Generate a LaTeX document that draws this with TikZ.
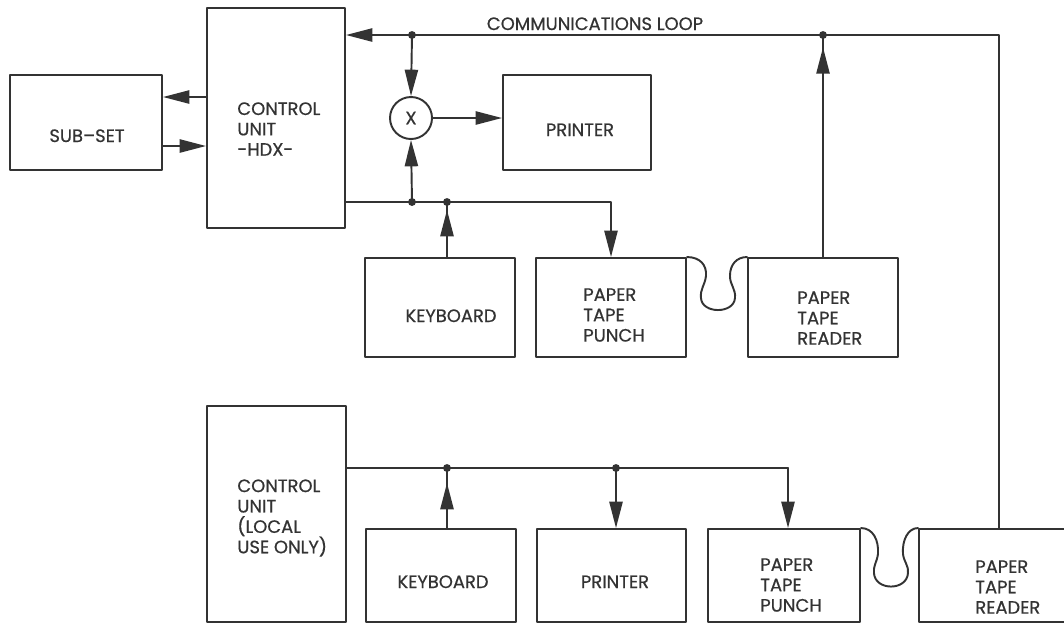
\documentclass[tikz,border=0pt]{standalone}
\usepackage{fontspec}
\setmainfont{Poppins}[FakeBold=0.6]
\usetikzlibrary{arrows.meta}
\definecolor{ink}{HTML}{333333}
\tikzset{
  box/.style={draw=ink,line width=1.1pt,rectangle,inner sep=0pt},
  lbl/.style={font=\fontsize{10.2}{11.6}\selectfont,text=ink,align=left,inner sep=0pt},
  wire/.style={draw=ink,line width=1.1pt},
  arr/.style={wire,-{Triangle[length=15pt,width=7.5pt]}},
  dot/.style={circle,fill=ink,inner sep=0pt,minimum size=4.5pt},
}
\begin{document}
\begin{tikzpicture}[x=0.2mm,y=-0.2mm,line cap=round,line join=round]
\useasboundingbox (0,0) rectangle (1064,625);
\clip (0,0) rectangle (1064,625);
% station with communications loop
\node[box,minimum width=30.4mm,minimum height=19mm] (sub) at (86,122.5) {};
\node[box,minimum width=27.6mm,minimum height=44mm] (hdx) at (276,118) {};
\node[box,circle,minimum size=8.4mm] (mix) at (411,118) {};
\node[box,minimum width=29.6mm,minimum height=19mm] (prt1) at (577,122.5) {};
\node[box,minimum width=30mm,minimum height=19.8mm] (kb1) at (440,307.5) {};
\node[box,minimum width=30mm,minimum height=19.8mm] (pch1) at (611,307.5) {};
\node[box,minimum width=30mm,minimum height=19.8mm] (rd1) at (823,307.5) {};
% local station
\node[box,minimum width=27.8mm,minimum height=43.2mm] (loc) at (276.5,514) {};
\node[box,minimum width=30mm,minimum height=18.6mm] (kb2) at (441,575.5) {};
\node[box,minimum width=29.8mm,minimum height=18.6mm] (prt2) at (611.5,575.5) {};
\node[box,minimum width=30.4mm,minimum height=18.6mm] (pch2) at (784,575.5) {};
\node[box,minimum width=32mm,minimum height=18.6mm] (rd2) at (999,575.5) {};
% texts
\node[lbl,anchor=base] (tsub) at (87,142) {SUB--SET};
\node[lbl,anchor=west] (thdx) at (237,129) {CONTROL\\UNIT\\-HDX-};
\node[lbl] (tmix) at (mix) {X};
\node[lbl,anchor=base] (tprt1) at (580,136) {PRINTER};
\node[lbl,anchor=base] (tkb1) at (451,322) {KEYBOARD};
\node[lbl,anchor=west] (tpch1) at (583,315) {PAPER\\TAPE\\PUNCH};
\node[lbl,anchor=west] (trd1) at (797,318) {PAPER\\TAPE\\READER};
\node[lbl,anchor=base] (tloop) at (595,30) {COMMUNICATIONS LOOP};
\node[lbl,anchor=west] (tloc) at (237,518) {CONTROL\\UNIT\\(LOCAL\\USE ONLY)};
\node[lbl,anchor=base] (tkb2) at (443,588) {KEYBOARD};
\node[lbl,anchor=base] (tprt2) at (615,588) {PRINTER};
\node[lbl,anchor=west] (tpch2) at (760,585) {PAPER\\TAPE\\PUNCH};
\node[lbl,anchor=west] (trd2) at (975,587) {PAPER\\TAPE\\READER};
% junctions
\coordinate (j1) at (412,35);
\coordinate (j4) at (823,35);
\coordinate (j2) at (412,202);
\coordinate (j3) at (447,202);
\coordinate (j5) at (447,468);
\coordinate (j6) at (616,468);
\coordinate (t2) at (788,468);
% connectors
\draw[arr] (rd2.north) |- (hdx.east |- j1);
\draw[arr] (j1) -- (mix.north);
\draw[arr] (mix.east) -- (mix.east -| prt1.west);
\draw[arr] (hdx.west |- 0,97) -- (sub.east |- 0,97);
\draw[arr] (sub.east |- 0,146) -- (hdx.west |- 0,146);
\draw[arr] (hdx.east |- j2) -| (pch1.north);
\draw[arr] (j2) -- (mix.south);
\draw[wire] (kb1.north -| j3) -- (j3);
\draw[arr,shorten >=4.5pt] (kb1.north -| j3) -- (j3);
\draw[wire] (rd1.north) -- (j4);
\draw[arr,shorten >=7pt] (rd1.north) -- (j4);
\draw[wire] (loc.east |- j5) -- (t2);
\draw[arr] (t2) -- (t2 |- pch2.north);
\draw[wire] (kb2.north -| j5) -- (j5);
\draw[arr,shorten >=8.5pt] (kb2.north -| j5) -- (j5);
\draw[arr] (j6) -- (j6 |- prt2.north);
% tape loops
\draw[wire,shift={(pch1.north east)}] (0,0) .. controls (13,0) and (20,8) .. (19,19)
  .. controls (18,28) and (13,32) .. (14,41) .. controls (15,57) and (47,57) .. (48,41)
  .. controls (49,32) and (43,28) .. (43,19) .. controls (43,7) and (50,0) .. (rd1.north west);
\draw[wire,shift={(pch2.north east)}] (0,0) .. controls (12,0) and (18,12) .. (17,26)
  .. controls (16,34) and (12,38) .. (13,45) .. controls (14,63) and (46,63) .. (47,45)
  .. controls (48,38) and (43,34) .. (42,26) .. controls (41,12) and (47,0) .. (rd2.north west);
\foreach \j in {j1,j2,j3,j4,j5,j6} \node[dot] (d\j) at (\j) {};
\end{tikzpicture}
\end{document}
